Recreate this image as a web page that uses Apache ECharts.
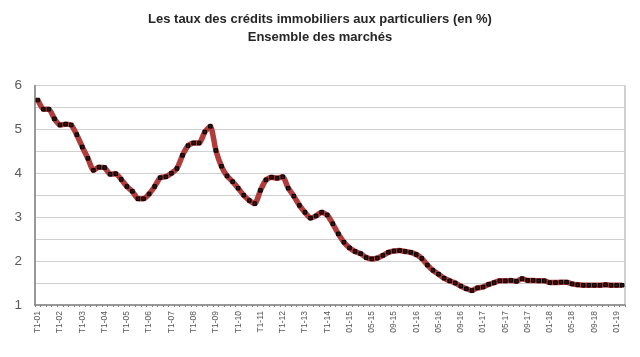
<!DOCTYPE html>
<html><head><meta charset="utf-8">
<script src="https://cdn.jsdelivr.net/npm/echarts@6/dist/echarts.min.js"></script>
<style>html,body{margin:0;padding:0;background:#fff}#c{width:640px;height:357px}</style>
</head><body><div id="c"></div>
<script>
var titleLine1 = "Les taux des crédits immobiliers aux particuliers (en %)";
var titleLine2 = "Ensemble des marchés";
var quarterCats = [
 "T1-01","T2-01","T3-01","T4-01","T1-02","T2-02","T3-02","T4-02",
 "T1-03","T2-03","T3-03","T4-03","T1-04","T2-04","T3-04","T4-04",
 "T1-05","T2-05","T3-05","T4-05","T1-06","T2-06","T3-06","T4-06",
 "T1-07","T2-07","T3-07","T4-07","T1-08","T2-08","T3-08","T4-08",
 "T1-09","T2-09","T3-09","T4-09","T1-10","T2-10","T3-10","T4-10",
 "T1-11","T2-11","T3-11","T4-11","T1-12","T2-12","T3-12","T4-12",
 "T1-13","T2-13","T3-13","T4-13","T1-14","T2-14","T3-14","T4-14"];
var monthCats = [
 "01-15","02-15","03-15","04-15","05-15","06-15","07-15","08-15","09-15","10-15","11-15","12-15",
 "01-16","02-16","03-16","04-16","05-16","06-16","07-16","08-16","09-16","10-16","11-16","12-16",
 "01-17","02-17","03-17","04-17","05-17","06-17","07-17","08-17","09-17","10-17","11-17","12-17",
 "01-18","02-18","03-18","04-18","05-18","06-18","07-18","08-18","09-18","10-18","11-18","12-18",
 "01-19","02-19"];
var quarterRates = [
 5.67,5.46,5.46,5.24,5.10,5.12,5.10,4.88,4.60,4.34,4.07,4.14,4.13,3.98,3.99,3.86,
 3.70,3.59,3.42,3.42,3.53,3.70,3.90,3.92,4.00,4.11,4.41,4.63,4.69,4.69,4.94,5.07,
 4.52,4.16,3.94,3.81,3.66,3.50,3.38,3.31,3.61,3.85,3.91,3.89,3.92,3.66,3.48,3.27,
 3.11,2.98,3.03,3.11,3.05,2.85,2.62,2.43];
var monthRates = [
 2.30,2.22,2.17,2.08,2.05,2.07,2.13,2.20,2.23,2.24,2.22,2.20,
 2.15,2.06,1.91,1.79,1.70,1.61,1.55,1.50,1.43,1.37,1.33,1.39,
 1.41,1.47,1.51,1.55,1.55,1.56,1.54,1.60,1.56,1.56,1.55,1.55,
 1.51,1.51,1.52,1.52,1.48,1.46,1.45,1.45,1.45,1.45,1.46,1.45,
 1.45,1.45];
var yMin = 1, yMax = 6, yStep = 0.5;

var cats = quarterCats.concat(monthCats);
var vals = quarterRates.concat(monthRates);
var chart = echarts.init(document.getElementById('c'), null, {renderer:'canvas'});
var sans = "'Liberation Sans',Arial,sans-serif";
chart.setOption({
  animation:false,
  backgroundColor:'#ffffff',
  title:{
    text: titleLine1 + "\n" + titleLine2,
    left:'center', top:5,
    textStyle:{fontFamily:sans, fontWeight:'bold', fontSize:13, color:'#262626', lineHeight:18}
  },
  grid:{left:35, right:15, top:85.5, bottom:52, show:true, borderColor:'#a0a0a0', borderWidth:1},
  xAxis:{
    type:'category', data:cats, boundaryGap:true,
    axisLine:{lineStyle:{color:'#868686', width:1.5}},
    axisTick:{show:true, interval:0, length:2, lineStyle:{color:'#868686'}},
    axisLabel:{interval:3, rotate:90, fontSize:8.5, color:'#595959', margin:6, fontFamily:sans},
    splitLine:{show:false}
  },
  yAxis:{
    type:'value', min:yMin, max:yMax, interval:yStep,
    axisLine:{show:true, lineStyle:{color:'#868686', width:1.5}},
    axisTick:{show:false},
    axisLabel:{fontSize:13.5, color:'#595959', margin:13, fontFamily:sans,
      formatter:function(v){return Math.abs(v-Math.round(v))<1e-6 ? String(Math.round(v)) : '';}},
    splitLine:{lineStyle:{color:'#d0d0d0', width:1}}
  },
  series:[{
    type:'line', data:vals, smooth:0.2,
    lineStyle:{color:'#b03c3c', width:5.5},
    symbol:'rect', symbolSize:3.5, showSymbol:true,
    itemStyle:{color:'#3a1010', borderColor:'#000000', borderWidth:1}
  }]
});
</script></body></html>
